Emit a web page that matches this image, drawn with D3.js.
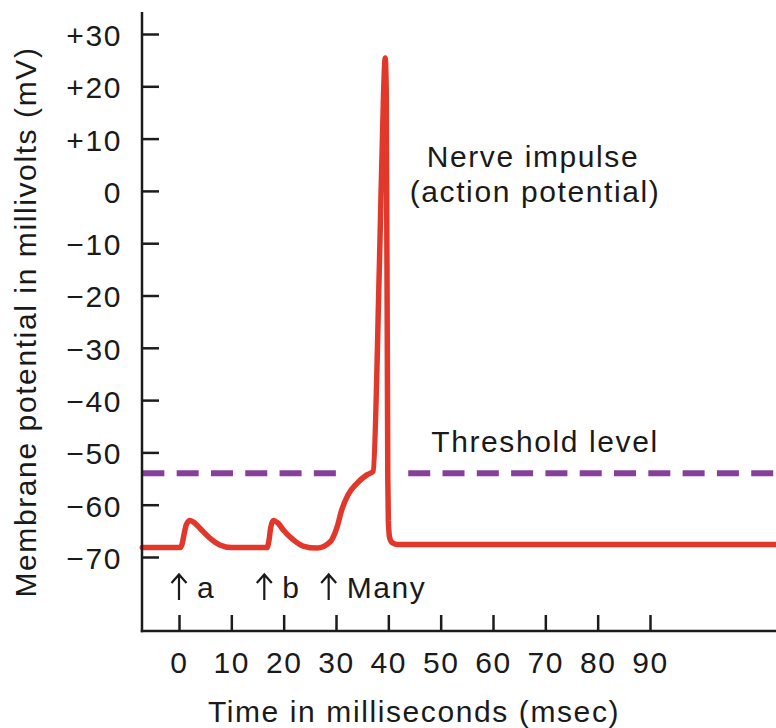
<!DOCTYPE html>
<html>
<head>
<meta charset="utf-8">
<script src="https://cdn.jsdelivr.net/npm/d3@7"></script>
<style>
  html, body { margin: 0; padding: 0; background: #ffffff; }
  svg { display: block; }
  text { font-family: "Liberation Sans", Arial, Helvetica, sans-serif; fill: #1a1a1a; }
</style>
</head>
<body>
<svg id="chart" width="776" height="728"></svg>
<script>
// ---- Data ----
const timeMs = [
  -7, 0.2, 0.6, 1.0, 1.4, 2.1, 3.0, 4.0, 5.9, 7.8, 10.0,
  16.8, 17.2, 17.5, 18.0, 19.0, 19.9, 21.8, 23.7, 26.4,
  28.9, 30.2, 31.1, 32.3, 34.0, 35.9, 37.1,
  38.3, 39.1, 39.4, 39.6, 39.9, 40.0, 40.25, 40.8, 41.8, 115
];
const potentialMv = [
  -68.2, -68.2, -67.5, -65.5, -63.8, -63.0, -63.5, -64.5, -66.4, -67.7, -68.2,
  -68.2, -66.8, -64.5, -63.0, -63.6, -64.8, -66.7, -67.9, -68.3,
  -67.1, -64.3, -61.0, -58.1, -55.9, -54.3, -53.6,
  -14, 19, 25.4, 19, -55, -63, -66.3, -67.3, -67.6, -67.6
];
const thresholdMv = -54;
const thresholdSegments = [[-7, 30], [43.8, 115]];
const xTickValues = [0, 10, 20, 30, 40, 50, 60, 70, 80, 90];
const xTickLabels = ["0", "10", "20", "30", "40", "50", "60", "70", "80", "90"];
const yTickValues = [-70, -60, -50, -40, -30, -20, -10, 0, 10, 20, 30];
const yTickLabels = ["−70", "−60", "−50", "−40", "−30", "−20", "−10", "0", "+10", "+20", "+30"];
const stimulusTimes = [0, 16.3, 28.6];
const stimulusLabels = ["a", "b", "Many"];
const xTitle = "Time in milliseconds (msec)";
const yTitle = "Membrane potential in millivolts (mV)";
const spikeLabel = ["Nerve impulse", "(action potential)"];
const thresholdLabel = "Threshold level";

// ---- Layout ----
const W = 776, H = 728;
const axisX = 142, axisY = 631, axisTop = 12;
const FONT = 30, LS = 1.6;

const svg = d3.select("#chart");
const x = d3.scaleLinear().domain([0, 90]).range([179, 650]);
const y = d3.scaleLinear().domain([-70, 30]).range([557, 34]);

const axisColor = "#1c1c1c";

// Threshold dashed line
const thrLine = d3.line().x(d => x(d)).y(() => y(thresholdMv));
thresholdSegments.forEach(seg => {
  svg.append("path")
    .attr("d", thrLine(seg))
    .attr("fill", "none")
    .attr("stroke", "#863f9a")
    .attr("stroke-width", 6)
    .attr("stroke-dasharray", "22 12.3");
});

// Membrane potential curve
const pts = timeMs.map((t, i) => [t, potentialMv[i]]);
const line = d3.line().x(d => x(d[0])).y(d => y(d[1])).curve(d3.curveMonotoneX);
svg.append("path")
  .attr("d", line(pts))
  .attr("fill", "none")
  .attr("stroke", "#e1382b")
  .attr("stroke-width", 5.5)
  .attr("stroke-linejoin", "round")
  .attr("stroke-linecap", "round");

// Y axis (ticks pointing inward)
const yAxis = d3.axisLeft(y)
  .tickValues(yTickValues)
  .tickFormat((d, i) => yTickLabels[i])
  .tickSizeInner(-17)
  .tickSizeOuter(0)
  .tickPadding(20);
const gy = svg.append("g").attr("transform", `translate(${axisX},0)`).call(yAxis);
gy.select(".domain").remove();
gy.selectAll(".tick line").attr("stroke", axisColor).attr("stroke-width", 2.5);
gy.selectAll(".tick text")
  .attr("font-size", FONT).attr("letter-spacing", LS)
  .attr("fill", "#1a1a1a").attr("dy", "0.38em")
  .style("font-family", '"Liberation Sans", Arial, sans-serif');

// X axis (ticks pointing inward / up)
const xAxis = d3.axisBottom(x)
  .tickValues(xTickValues)
  .tickFormat((d, i) => xTickLabels[i])
  .tickSizeInner(-16)
  .tickSizeOuter(0)
  .tickPadding(21);
const gx = svg.append("g").attr("transform", `translate(0,${axisY})`).call(xAxis);
gx.select(".domain").remove();
gx.selectAll(".tick line").attr("stroke", axisColor).attr("stroke-width", 2.5);
gx.selectAll(".tick text")
  .attr("font-size", FONT).attr("letter-spacing", LS)
  .attr("fill", "#1a1a1a")
  .style("font-family", '"Liberation Sans", Arial, sans-serif');

// Axis lines
svg.append("line").attr("x1", axisX).attr("x2", axisX).attr("y1", axisTop).attr("y2", axisY + 1.25)
  .attr("stroke", axisColor).attr("stroke-width", 2.5);
svg.append("line").attr("x1", axisX - 1.25).attr("x2", W).attr("y1", axisY).attr("y2", axisY)
  .attr("stroke", axisColor).attr("stroke-width", 2.5);

// Axis titles
svg.append("text")
  .attr("x", 414).attr("y", 722)
  .attr("text-anchor", "middle")
  .attr("font-size", FONT).attr("letter-spacing", LS)
  .text(xTitle);
svg.append("text")
  .attr("transform", "translate(36,322) rotate(-90)")
  .attr("text-anchor", "middle")
  .attr("font-size", FONT).attr("letter-spacing", LS)
  .text(yTitle);

// Stimulus arrows (drawn as thin arrows) and labels
const stim = svg.append("g");
stimulusTimes.forEach((t, i) => {
  const ax = x(t);
  stim.append("path")
    .attr("d", `M${ax},600 L${ax},575 M${ax - 7.5},583 L${ax},574.5 L${ax + 7.5},583`)
    .attr("fill", "none")
    .attr("stroke", "#1a1a1a")
    .attr("stroke-width", 2.2)
    .attr("stroke-linejoin", "miter");
  stim.append("text")
    .attr("x", ax + 18).attr("y", 598)
    .attr("font-size", FONT).attr("letter-spacing", LS)
    .text(stimulusLabels[i]);
});

// Annotations
svg.append("text")
  .attr("x", 533).attr("y", 167)
  .attr("text-anchor", "middle")
  .attr("font-size", FONT).attr("letter-spacing", LS)
  .text(spikeLabel[0]);
svg.append("text")
  .attr("x", 535).attr("y", 202)
  .attr("text-anchor", "middle")
  .attr("font-size", FONT).attr("letter-spacing", LS)
  .text(spikeLabel[1]);
svg.append("text")
  .attr("x", 545).attr("y", 452)
  .attr("text-anchor", "middle")
  .attr("font-size", FONT).attr("letter-spacing", LS)
  .text(thresholdLabel);
</script>
</body>
</html>
